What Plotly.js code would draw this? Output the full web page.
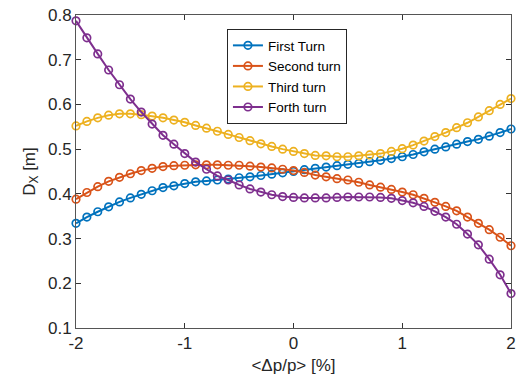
<!DOCTYPE html>
<html>
<head>
<meta charset="utf-8">
<script src="https://cdn.plot.ly/plotly-3.0.1.min.js"></script>
<style>html,body{margin:0;padding:0;background:#fff;}#chart{width:526px;height:376px;}</style>
</head>
<body>
<div id="chart"></div>
<script>
var dp = [-2.0,-1.9,-1.8,-1.7,-1.6,-1.5,-1.4,-1.3,-1.2,-1.1,-1.0,-0.9,-0.8,-0.7,-0.6,-0.5,-0.4,-0.3,-0.2,-0.1,0.0,
          0.1,0.2,0.3,0.4,0.5,0.6,0.7,0.8,0.9,1.0,1.1,1.2,1.3,1.4,1.5,1.6,1.7,1.8,1.9,2.0];

var firstTurn = [0.334,0.348,0.360,0.371,0.382,0.391,0.399,0.407,0.414,0.418,0.423,0.427,0.429,0.431,0.433,0.436,0.438,0.441,0.444,0.447,0.450,
                 0.454,0.457,0.460,0.463,0.466,0.468,0.472,0.475,0.479,0.483,0.488,0.494,0.500,0.505,0.511,0.517,0.522,0.529,0.537,0.545];

var secondTurn = [0.388,0.403,0.416,0.428,0.437,0.445,0.452,0.457,0.461,0.463,0.464,0.465,0.465,0.465,0.464,0.464,0.462,0.460,0.458,0.455,0.452,
                  0.448,0.442,0.438,0.434,0.431,0.426,0.420,0.415,0.410,0.404,0.398,0.390,0.381,0.372,0.362,0.348,0.334,0.320,0.303,0.284];

var thirdTurn = [0.552,0.562,0.570,0.576,0.579,0.579,0.577,0.574,0.570,0.565,0.560,0.553,0.547,0.540,0.533,0.526,0.519,0.512,0.506,0.500,0.495,
                 0.490,0.486,0.485,0.483,0.483,0.485,0.487,0.490,0.495,0.501,0.509,0.518,0.528,0.537,0.548,0.559,0.572,0.586,0.600,0.613];

var forthTurn = [0.787,0.749,0.713,0.677,0.644,0.612,0.583,0.556,0.531,0.511,0.490,0.471,0.455,0.440,0.431,0.420,0.411,0.404,0.398,0.394,0.392,
                 0.391,0.391,0.391,0.392,0.393,0.393,0.393,0.392,0.390,0.385,0.380,0.372,0.361,0.348,0.332,0.310,0.286,0.254,0.219,0.177];

var seriesNames = ["First Turn","Second turn","Third turn","Forth turn"];
var seriesColors = ["#0072BD","#D95319","#EDB120","#7E2F8E"];
var seriesValues = [firstTurn, secondTurn, thirdTurn, forthTurn];

var xTickVals = [-2,-1,0,1,2];
var xTickText = ["-2","-1","0","1","2"];
var yTickVals = [0.1,0.2,0.3,0.4,0.5,0.6,0.7,0.8];
var yTickText = ["0.1","0.2","0.3","0.4","0.5","0.6","0.7","0.8"];

var FONT = "Liberation Sans, Arial, Helvetica, sans-serif";

var traces = seriesValues.map(function(v, i){
  return {
    x: dp, y: v, type: "scatter", mode: "lines+markers", name: seriesNames[i],
    cliponaxis: false,
    line: {color: seriesColors[i], width: 2},
    marker: {symbol: "circle-open", size: 7.5, color: seriesColors[i], line: {width: 1.7, color: seriesColors[i]}}
  };
});

var axisCommon = {
  showline: true, linecolor: "#555", linewidth: 1, mirror: "ticks",
  ticks: "inside", ticklen: 5, tickcolor: "#333", tickwidth: 1,
  showgrid: false, zeroline: false,
  tickfont: {family: FONT, size: 17, color: "#262626"}
};

var layout = {
  width: 526, height: 376,
  margin: {l: 76, r: 15, t: 15, b: 48},
  paper_bgcolor: "#fff", plot_bgcolor: "#fff",
  font: {family: FONT, color: "#262626"},
  showlegend: true,
  legend: {
    x: 0.347, y: 0.955, xanchor: "left", yanchor: "top",
    bgcolor: "#fff", bordercolor: "#262626", borderwidth: 1,
    font: {family: FONT, size: 13.5, color: "#000"},
    tracegroupgap: 0
  },
  xaxis: Object.assign({}, axisCommon, {
    range: [-2, 2], tickmode: "array", tickvals: xTickVals, ticktext: xTickText,
    title: {text: "&lt;Δp/p&gt; [%]", font: {family: FONT, size: 17, color: "#262626"}, standoff: 6}
  }),
  yaxis: Object.assign({}, axisCommon, {
    range: [0.1, 0.8], tickmode: "array", tickvals: yTickVals, ticktext: yTickText,
    title: {text: "D<sub>X</sub> [m]", font: {family: FONT, size: 17, color: "#262626"}, standoff: 8}
  })
};

Plotly.newPlot("chart", traces, layout, {displayModeBar: false, staticPlot: true});
</script>
</body>
</html>
